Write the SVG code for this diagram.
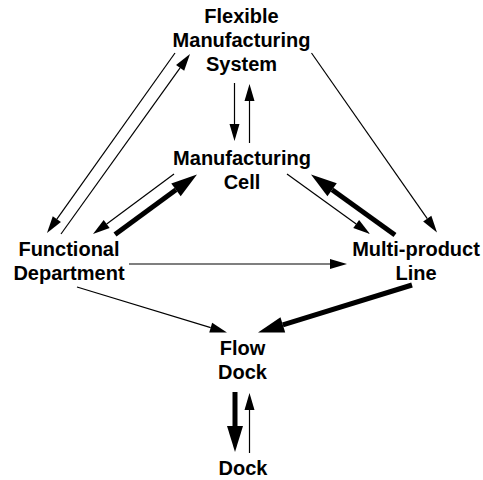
<svg xmlns="http://www.w3.org/2000/svg" width="483" height="480" viewBox="0 0 483 480">
  <style>
    .label { font-family: "Liberation Sans", Arial, sans-serif; font-weight: bold; font-size: 20px; fill: #000; text-anchor: middle; }
    .thin { stroke: #000; stroke-width: 1.2; fill: none; marker-end: url(#headThin); }
    .thick { stroke: #000; stroke-width: 5; fill: none; marker-end: url(#headThick); }
  </style>
  <defs>
    <marker id="headThin" markerUnits="userSpaceOnUse" markerWidth="17" markerHeight="10" refX="0" refY="5" orient="auto" overflow="visible">
      <path d="M0,0 L17,5 L0,10 Z" fill="#000"/>
    </marker>
    <marker id="headThick" markerUnits="userSpaceOnUse" markerWidth="26" markerHeight="16" refX="0" refY="8" orient="auto" overflow="visible">
      <path d="M0,0 L26,8 L0,16 Z" fill="#000"/>
    </marker>
  </defs>
  <rect width="483" height="480" fill="#fff"/>

  <g id="connectors">
    <line class="thin" x1="175" y1="53" x2="56.85" y2="219.15"/>
    <line class="thin" x1="61" y1="234" x2="180.1" y2="67.8"/>
    <line class="thin" x1="174" y1="174" x2="106.66" y2="223.9"/>
    <line class="thick" x1="115" y1="234.5" x2="176" y2="189.85"/>
    <line class="thin" x1="311.5" y1="53" x2="427.26" y2="218.57"/>
    <line class="thin" x1="287" y1="174" x2="356.2" y2="224"/>
    <line class="thick" x1="395" y1="235" x2="332.1" y2="189.7"/>
    <line class="thin" x1="129" y1="264" x2="330" y2="264"/>
    <line class="thin" x1="77" y1="287" x2="210.7" y2="327.6"/>
    <line class="thick" x1="412" y1="285" x2="282.84" y2="324.84"/>
    <line class="thin" x1="234.5" y1="83" x2="234.5" y2="124"/>
    <line class="thin" x1="249.5" y1="143" x2="249.5" y2="101"/>
    <line class="thick" x1="235" y1="392" x2="235" y2="426"/>
    <line class="thin" x1="249.5" y1="453" x2="249.5" y2="410"/>
  </g>

  <g id="flexible-manufacturing-system">
    <text class="label" x="241.5" y="23">Flexible</text>
    <text class="label" x="241.5" y="47">Manufacturing</text>
    <text class="label" x="241.5" y="71">System</text>
  </g>
  <g id="manufacturing-cell">
    <text class="label" x="242" y="165">Manufacturing</text>
    <text class="label" x="242" y="189">Cell</text>
  </g>
  <g id="functional-department">
    <text class="label" x="69" y="256">Functional</text>
    <text class="label" x="69" y="280">Department</text>
  </g>
  <g id="multi-product-line">
    <text class="label" x="416" y="256">Multi-product</text>
    <text class="label" x="416" y="280">Line</text>
  </g>
  <g id="flow-dock">
    <text class="label" x="242.5" y="355">Flow</text>
    <text class="label" x="242.5" y="379">Dock</text>
  </g>
  <g id="dock">
    <text class="label" x="243" y="475">Dock</text>
  </g>
</svg>
